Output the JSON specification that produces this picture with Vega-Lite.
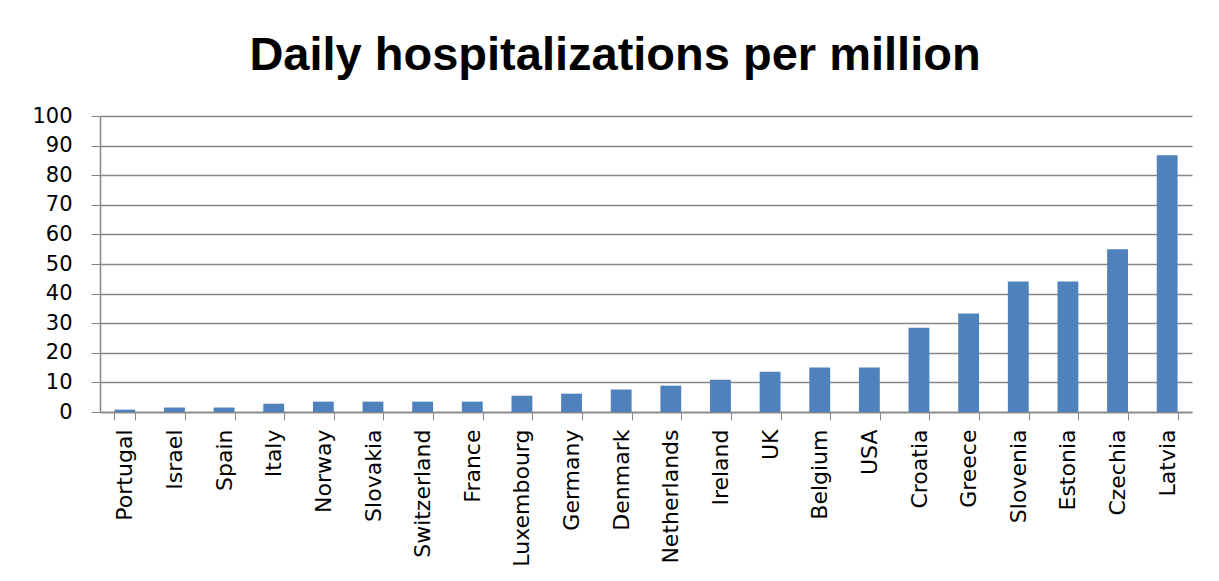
{
  "$schema": "https://vega.github.io/schema/vega-lite/v6.json",
  "width": 1092,
  "height": 296,
  "autosize": {"type": "none"},
  "padding": {"left": 100, "top": 116, "right": 27, "bottom": 169},
  "background": "white",
  "title": {
    "text": "Daily hospitalizations per million",
    "font": "Liberation Sans",
    "fontWeight": "bold",
    "fontSize": 47,
    "color": "black",
    "anchor": "middle",
    "baseline": "alphabetic",
    "offset": 46,
    "dx": -31,
    "dy": 58
  },
  "data": {
    "values": [
      {"country": "Portugal", "value": 0.8},
      {"country": "Israel", "value": 1.5},
      {"country": "Spain", "value": 1.5},
      {"country": "Italy", "value": 2.8},
      {"country": "Norway", "value": 3.5},
      {"country": "Slovakia", "value": 3.5},
      {"country": "Switzerland", "value": 3.5},
      {"country": "France", "value": 3.5},
      {"country": "Luxembourg", "value": 5.5},
      {"country": "Germany", "value": 6.2},
      {"country": "Denmark", "value": 7.6},
      {"country": "Netherlands", "value": 8.9},
      {"country": "Ireland", "value": 10.9},
      {"country": "UK", "value": 13.6},
      {"country": "Belgium", "value": 15.0},
      {"country": "USA", "value": 15.0},
      {"country": "Croatia", "value": 28.5},
      {"country": "Greece", "value": 33.3},
      {"country": "Slovenia", "value": 44.1},
      {"country": "Estonia", "value": 44.1},
      {"country": "Czechia", "value": 55.0},
      {"country": "Latvia", "value": 86.7}
    ]
  },
  "mark": {"type": "bar", "color": "#4F81BD"},
  "encoding": {
    "x": {
      "field": "country",
      "type": "nominal",
      "sort": null,
      "title": null,
      "scale": {"paddingInner": 0.58, "paddingOuter": 0.29},
      "axis": {
        "labelAngle": -90,
        "labelAlign": "right",
        "labelBaseline": "middle",
        "labelFont": "DejaVu Sans",
        "labelFontSize": 22,
        "labelColor": "black",
        "labelPadding": 9,
        "tickBand": "extent",
        "tickSize": 8,
        "tickColor": "#868686",
        "domainColor": "#868686",
        "domainWidth": 1.5,
        "grid": false
      }
    },
    "y": {
      "field": "value",
      "type": "quantitative",
      "title": null,
      "scale": {"domain": [0, 100], "nice": false},
      "axis": {
        "values": [0, 10, 20, 30, 40, 50, 60, 70, 80, 90, 100],
        "labelFont": "DejaVu Sans",
        "labelFontSize": 21,
        "labelColor": "black",
        "labelPadding": 19,
        "tickSize": 9,
        "tickColor": "#868686",
        "domainColor": "#868686",
        "domainWidth": 1.5,
        "gridColor": "#868686",
        "gridWidth": 1.3,
        "gridOpacity": 1
      }
    }
  },
  "config": {"view": {"stroke": null}}
}
